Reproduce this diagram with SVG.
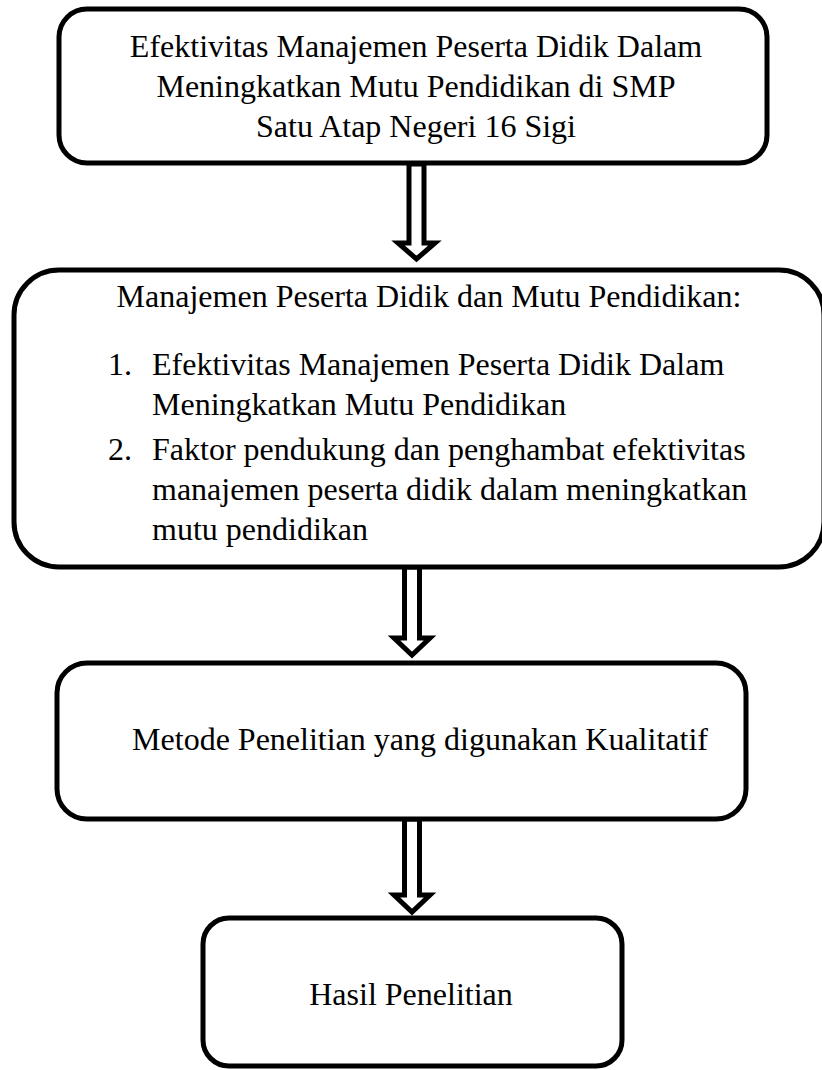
<svg xmlns="http://www.w3.org/2000/svg" width="822" height="1070" viewBox="0 0 822 1070">
<style>
.box{fill:#fff;stroke:#000;stroke-width:5}
.arr{fill:#fff;stroke:#000;stroke-width:5;stroke-linejoin:miter}
text{font-family:"Liberation Serif","Times New Roman",serif;font-size:32px;fill:#000}
.c{text-anchor:middle}
</style>
<rect width="822" height="1070" fill="#fff"/>
<g id="connectors">
<polygon class="arr" points="409,164 424,164 424,243 435,243 416.5,259 398,243 409,243"/>
<polygon class="arr" points="404.5,567 419.5,567 419.5,638 430,638 412,655 394,638 404.5,638"/>
<polygon class="arr" points="404.5,819 419.5,819 419.5,895 430,895 412,912 394,895 404.5,895"/>
</g>
<g id="node1">
<rect class="box" x="59" y="9" width="708" height="154" rx="28"/>
<text class="c" x="416" y="57">Efektivitas Manajemen Peserta Didik Dalam</text>
<text class="c" x="416" y="97">Meningkatkan Mutu Pendidikan di SMP</text>
<text class="c" x="416" y="137">Satu Atap Negeri 16 Sigi</text>
</g>
<g id="node2">
<rect class="box" x="14" y="270" width="810" height="297" rx="45"/>
<text class="c" x="429" y="307">Manajemen Peserta Didik dan Mutu Pendidikan:</text>
<text x="108" y="375">1.</text>
<text x="152" y="375">Efektivitas Manajemen Peserta Didik Dalam</text>
<text x="152" y="415">Meningkatkan Mutu Pendidikan</text>
<text x="108" y="460">2.</text>
<text x="152" y="460">Faktor pendukung dan penghambat efektivitas</text>
<text x="152" y="500">manajemen peserta didik dalam meningkatkan</text>
<text x="152" y="540">mutu pendidikan</text>
</g>
<g id="node3">
<rect class="box" x="57" y="663" width="689" height="156" rx="30"/>
<text class="c" x="420" y="750">Metode Penelitian yang digunakan Kualitatif</text>
</g>
<g id="node4">
<rect class="box" x="203" y="918" width="419" height="148" rx="26"/>
<text class="c" x="411" y="1005">Hasil Penelitian</text>
</g>
</svg>
